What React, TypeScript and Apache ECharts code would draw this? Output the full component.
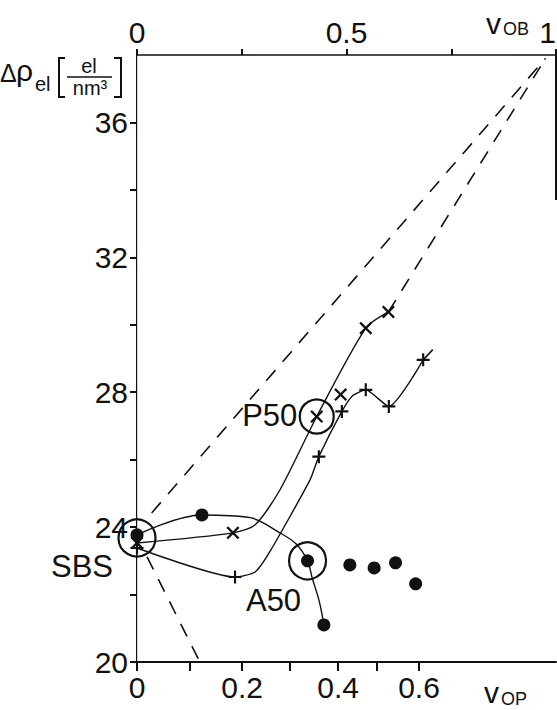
import React, { useEffect, useRef } from "react";
import * as echarts from "echarts";

// ---- data (x in v_OB units, top axis; y in Δρ_el [el/nm³]) ----
const DOT_X = [0, 0.155, 0.407, 0.446, 0.508, 0.566, 0.617, 0.665];
const DOT_Y = [23.77, 24.36, 23.0, 21.1, 22.88, 22.79, 22.94, 22.32];
const CROSS_X = [0, 0.229, 0.429, 0.486, 0.546, 0.6];
const CROSS_Y = [23.53, 23.83, 27.28, 27.93, 29.9, 30.38];
const PLUS_X = [0, 0.234, 0.434, 0.489, 0.546, 0.601, 0.683];
const PLUS_Y = [23.38, 22.52, 26.09, 27.43, 28.07, 27.58, 28.96];

const DOT_CURVE_X = [0, 0.155, 0.27, 0.341, 0.38, 0.407, 0.418, 0.435, 0.446];
const DOT_CURVE_Y = [23.77, 24.36, 24.28, 23.83, 23.5, 23.0, 22.5, 21.8, 21.1];
const CROSS_CURVE_X = [0, 0.229, 0.282, 0.341, 0.429, 0.546, 0.6];
const CROSS_CURVE_Y = [23.53, 23.83, 24.07, 25.1, 27.28, 29.9, 30.38];
const PLUS_CURVE_X = [0, 0.234, 0.282, 0.317, 0.413, 0.434, 0.489, 0.515, 0.546, 0.601, 0.683];
const PLUS_CURVE_Y = [23.38, 22.52, 22.67, 23.27, 25.4, 26.09, 27.43, 27.9, 28.07, 27.58, 28.96];

const DASH_A = [[0.035, 24.42], [0.975, 37.9]];
const DASH_B = [[0.6, 30.38], [0.975, 37.9]];
const DASH_C = [[0.024, 23.12], [0.15, 20.0]];
const DASH_D = [[0.683, 28.96], [0.72, 29.45]];

const CIRCLE_NAMES = ["SBS", "P50", "A50"];
const CIRCLE_X = [0, 0.429, 0.407];
const CIRCLE_Y = [23.68, 27.28, 23.0];

// bottom axis (v_OP) tick positions expressed on the v_OB scale
const OP_TICK_POS = [0, 0.126, 0.251, 0.365, 0.48, 0.573, 0.673];
const OP_LABEL_POS = [0, 0.251, 0.48, 0.673];
const OP_LABELS = ["0", "0.2", "0.4", "0.6"];
const OB_LABEL_POS = [0, 0.5, 1];
const OB_LABELS = ["0", "0.5", "1"];
const Y_LABELS = [20, 24, 28, 32, 36];

const FONT = "'Liberation Sans', Arial, sans-serif";
const INK = "#111";

const CROSS_SYM = "path://M1.5,0 L6,4.5 L10.5,0 L12,1.5 L7.5,6 L12,10.5 L10.5,12 L6,7.5 L1.5,12 L0,10.5 L4.5,6 L0,1.5 Z";
const PLUS_SYM = "path://M5,0 H7 V5 H12 V7 H7 V12 H5 V7 H0 V5 H5 Z";

const pairs = (xs: number[], ys: number[]) => xs.map((x, i) => [x, ys[i]]);
const lookup = (pos: number[], labels: string[], v: number) => {
  const i = pos.findIndex((p) => Math.abs(p - v) < 1e-6);
  return i >= 0 ? labels[i] : "";
};

export default function App() {
  const ref = useRef<HTMLDivElement>(null);
  useEffect(() => {
    document.body.style.margin = "0";
    const chart = echarts.init(ref.current!, null, { renderer: "svg" });
    const lineSeries = (data: number[][], dashed: boolean, smooth: number) => ({
      type: "line",
      data,
      showSymbol: false,
      smooth,
      clip: false,
      silent: true,
      lineStyle: { color: INK, width: dashed ? 1.6 : 1.4, type: dashed ? [14, 11] : "solid", opacity: 1 },
      z: 2,
    });
    const option: any = {
      animation: false,
      backgroundColor: "#fff",
      grid: { left: 137, right: 1, top: 55, bottom: 48, containLabel: false, outerBoundsMode: "none" },
      xAxis: [
        {
          type: "value",
          position: "bottom",
          min: 0,
          max: 1,
          splitLine: { show: false },
          axisLine: { show: true, lineStyle: { color: INK, width: 2 } },
          axisTick: { show: true, customValues: OP_TICK_POS, length: 9, lineStyle: { color: INK, width: 2 } },
          axisLabel: {
            customValues: OP_LABEL_POS,
            formatter: (v: number) => lookup(OP_LABEL_POS, OP_LABELS, v),
            fontSize: 30,
            color: INK,
            fontFamily: FONT,
            margin: 10,
          },
        },
        {
          type: "value",
          position: "top",
          min: 0,
          max: 1,
          interval: 0.25,
          splitLine: { show: false },
          axisLine: { show: true, lineStyle: { color: INK, width: 1.5 } },
          axisTick: { show: true, length: 6, lineStyle: { color: INK, width: 2 } },
          axisLabel: {
            customValues: OB_LABEL_POS,
            formatter: (v: number) => lookup(OB_LABEL_POS, OB_LABELS, v),
            fontSize: 30,
            color: INK,
            fontFamily: FONT,
            margin: 8,
            alignMaxLabel: "right",
          },
        },
      ],
      yAxis: [
        {
          type: "value",
          min: 20,
          max: 38,
          interval: 2,
          splitLine: { show: false },
          axisLine: { show: true, lineStyle: { color: INK, width: 2 } },
          axisTick: { show: true, length: 7, lineStyle: { color: INK, width: 2 } },
          axisLabel: {
            formatter: (v: number) => (Y_LABELS.includes(v) ? String(v) : ""),
            fontSize: 30,
            color: INK,
            fontFamily: FONT,
            margin: 9,
            showMaxLabel: false,
          },
        },
        {
          type: "value",
          position: "right",
          min: 20,
          max: 38,
          splitLine: { show: false },
          axisLine: { show: true, lineStyle: { color: "#cfcfcf", width: 1 } },
          axisTick: { show: false },
          axisLabel: { show: false },
        },
      ],
      series: [
        lineSeries(DASH_A, true, 0),
        lineSeries(DASH_B, true, 0),
        lineSeries(DASH_C, true, 0),
        lineSeries(DASH_D, true, 0),
        lineSeries(pairs(DOT_CURVE_X, DOT_CURVE_Y), false, 0.35),
        lineSeries(pairs(CROSS_CURVE_X, CROSS_CURVE_Y), false, 0.25),
        lineSeries(pairs(PLUS_CURVE_X, PLUS_CURVE_Y), false, 0.2),
        {
          type: "line",
          data: [[1, 38], [1, 33.7]],
          showSymbol: false,
          clip: false,
          silent: true,
          lineStyle: { color: INK, width: 2 },
        },
        {
          type: "scatter",
          data: pairs(DOT_X, DOT_Y),
          symbol: "circle",
          symbolSize: 13,
          clip: false,
          itemStyle: { color: INK, opacity: 1 },
          z: 4,
        },
        {
          type: "scatter",
          data: pairs(CROSS_X, CROSS_Y),
          symbol: CROSS_SYM,
          symbolSize: 13,
          clip: false,
          itemStyle: { color: INK, opacity: 1 },
          z: 4,
        },
        {
          type: "scatter",
          data: pairs(PLUS_X, PLUS_Y),
          symbol: PLUS_SYM,
          symbolSize: 13,
          clip: false,
          itemStyle: { color: INK, opacity: 1 },
          z: 4,
        },
        {
          type: "scatter",
          clip: false,
          symbol: "circle",
          z: 5,
          itemStyle: { color: "rgba(0,0,0,0)", borderColor: INK, borderWidth: 2.2, opacity: 1 },
          data: CIRCLE_NAMES.map((n, i) => ({
            name: n,
            value: [CIRCLE_X[i], CIRCLE_Y[i]],
            symbolSize: i === 1 ? 34 : 37,
            label: {
              show: true,
              formatter: n,
              position: "inside",
              offset: i === 0 ? [-55, 29] : i === 1 ? [-47, -1] : [-34, 40],
              fontSize: 31,
              color: INK,
              opacity: 1,
              textBorderWidth: 0,
              fontFamily: FONT,
            },
          })),
        },
      ],
      graphic: [
        { type: "text", x: 0, y: 60, style: { text: "Δ", fontSize: 25, fontFamily: FONT, fill: INK } },
        { type: "text", x: 16, y: 55, style: { text: "ρ", fontSize: 30, fontFamily: FONT, fill: INK } },
        { type: "text", x: 35, y: 74, style: { text: "el", fontSize: 20, fontFamily: FONT, fill: INK } },
        { type: "polyline", shape: { points: [[65, 58], [59, 58], [59, 97], [65, 97]] }, style: { stroke: INK, lineWidth: 2, fill: null } },
        { type: "polyline", shape: { points: [[114, 58], [121, 58], [121, 97], [114, 97]] }, style: { stroke: INK, lineWidth: 2, fill: null } },
        { type: "text", x: 89, y: 56, style: { text: "el", fontSize: 20, fontFamily: FONT, fill: INK, align: "center" } },
        { type: "line", shape: { x1: 67, y1: 77, x2: 112, y2: 77 }, style: { stroke: INK, lineWidth: 1.5 } },
        { type: "text", x: 90, y: 78, style: { text: "nm³", fontSize: 20, fontFamily: FONT, fill: INK, align: "center" } },
        { type: "text", x: 486, y: 8, style: { text: "v", fontSize: 30, fontFamily: FONT, fill: INK } },
        { type: "text", x: 503, y: 20, style: { text: "OB", fontSize: 18, fontFamily: FONT, fill: INK } },
        { type: "text", x: 484, y: 677, style: { text: "v", fontSize: 30, fontFamily: FONT, fill: INK } },
        { type: "text", x: 501, y: 690, style: { text: "OP", fontSize: 18, fontFamily: FONT, fill: INK } },
      ],
    };
    chart.setOption(option);
    return () => chart.dispose();
  }, []);
  return <div ref={ref} style={{ width: 557, height: 710 }} />;
}
